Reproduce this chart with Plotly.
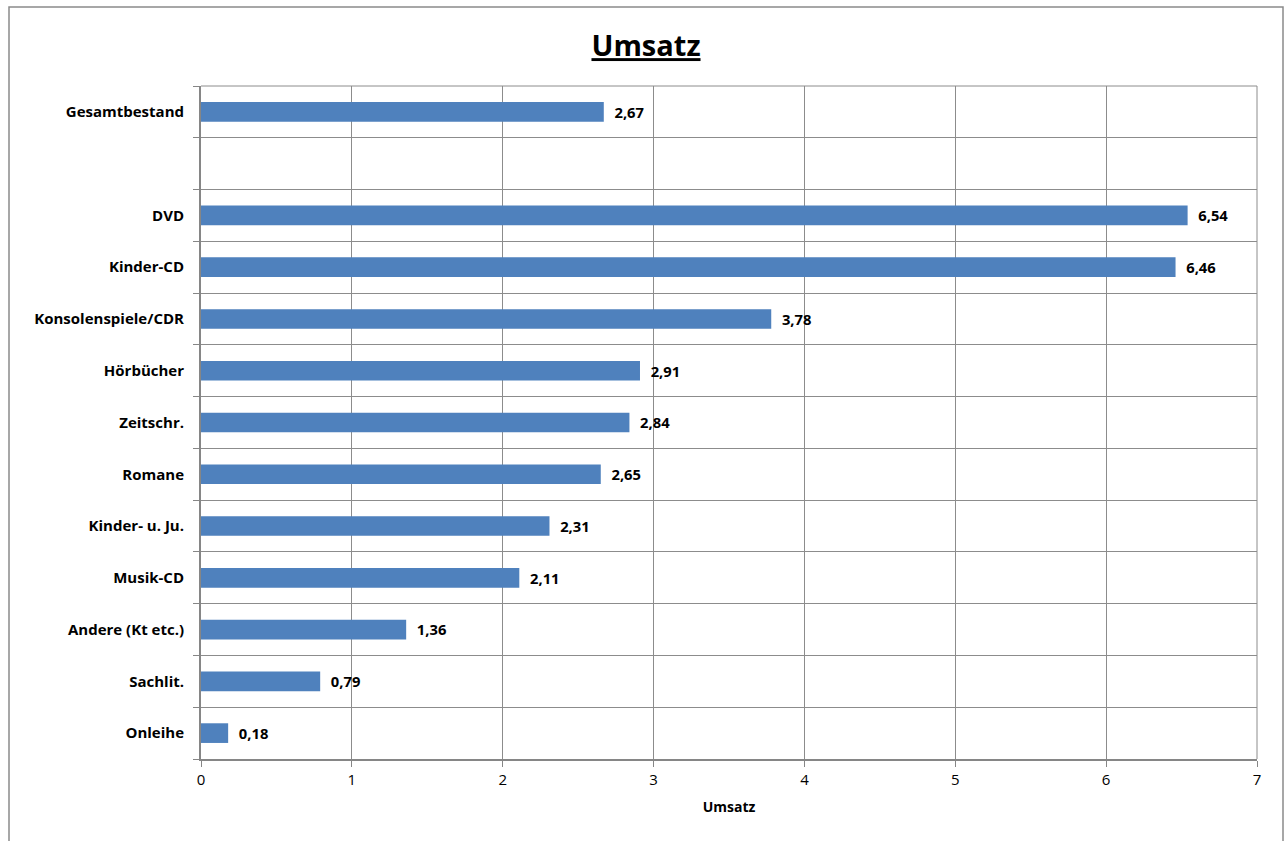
import plotly.graph_objects as go

categories = ["Onleihe", "Sachlit.", "Andere (Kt etc.)", "Musik-CD", "Kinder- u. Ju.",
              "Romane", "Zeitschr.", "Hörbücher", "Konsolenspiele/CDR", "Kinder-CD",
              "DVD", " ", "Gesamtbestand"]
values = [0.18, 0.79, 1.36, 2.11, 2.31, 2.65, 2.84, 2.91, 3.78, 6.46, 6.54, None, 2.67]
x_ticks = [0, 1, 2, 3, 4, 5, 6, 7]

labels = ["" if v is None else "\u00a0\u00a0" + f"{v:.2f}".replace(".", ",") for v in values]

FONT = "Open Sans"
W, H = 1287, 841
L, R, T, B = 201, 1257, 86, 759

fig = go.Figure(go.Bar(
    x=values, y=categories, orientation="h",
    marker=dict(color="#4F81BD", line=dict(width=0)),
    width=0.38,
    text=labels, textposition="outside", cliponaxis=False,
    textfont=dict(family=FONT, size=15, color="#000000", weight="bold"),
))

pw, ph = R - L, B - T
def px(x): return (x - L) / pw
def py(y): return (B - y) / ph

fig.update_layout(
    width=W, height=H,
    margin=dict(l=L, r=W - R, t=T, b=H - B),
    paper_bgcolor="white", plot_bgcolor="white",
    showlegend=False,
    separators=",.",
    title=dict(text="<b><u>Umsatz</u></b>", x=px(646), xref="paper", xanchor="center",
               y=1 - 46 / H, yanchor="middle",
               font=dict(family=FONT, size=29, color="#000000")),
    xaxis=dict(range=[0, 7], tickvals=x_ticks, showgrid=True, gridcolor="#8c8c8c", gridwidth=1,
               showline=True, linecolor="#868686", linewidth=2,
               ticks="outside", ticklen=6, tickcolor="#868686", tickwidth=1,
               tickfont=dict(family=FONT, size=15, color="#000000"),
               zeroline=False, fixedrange=True,
               title=dict(text="<b>Umsatz</b>", standoff=14,
                          font=dict(family=FONT, size=14, color="#000000"))),
    yaxis=dict(type="category", categoryorder="array", categoryarray=categories,
               tickson="boundaries", showgrid=True, gridcolor="#8c8c8c", gridwidth=1,
               showline=True, linecolor="#868686", linewidth=2,
               ticks="outside", ticklen=6, tickcolor="#868686", tickwidth=1,
               ticklabelstandoff=12,
               tickfont=dict(family=FONT, size=15, color="#000000", weight="bold"),
               fixedrange=True),
    bargap=0.62,
    shapes=[
        dict(type="line", xref="paper", yref="paper", x0=0, x1=1, y0=1, y1=1,
             line=dict(color="#8c8c8c", width=1)),
        dict(type="line", xref="paper", yref="paper", x0=1, x1=1, y0=0, y1=1,
             line=dict(color="#8c8c8c", width=1)),
        dict(type="rect", xref="paper", yref="paper",
             x0=px(9), x1=px(1283), y0=py(7), y1=py(850),
             line=dict(color="#8a8a8a", width=1.5), fillcolor="rgba(0,0,0,0)", layer="below"),
    ],
)

fig.write_html("out.html")
